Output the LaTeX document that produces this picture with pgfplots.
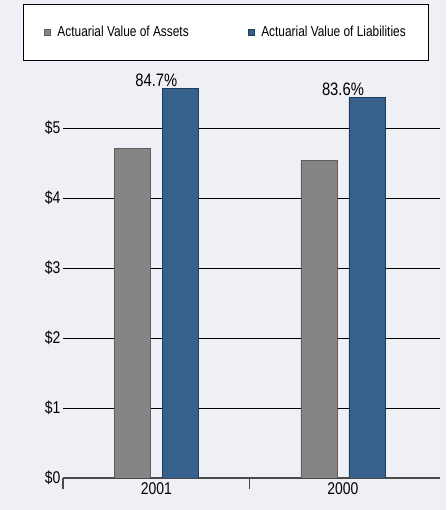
\documentclass[border=0pt]{standalone}
\usepackage{fontspec}
\setmainfont{Liberation Sans}[FakeStretch=0.82]
\usepackage{pgfplots}
\pgfplotsset{compat=1.18}
\definecolor{bgc}{HTML}{EEF0F5}
\definecolor{grayfill}{HTML}{858585}
\definecolor{grayedge}{HTML}{5E5E5E}
\definecolor{bluefill}{HTML}{36618C}
\definecolor{blueedge}{HTML}{1F3E5E}
\definecolor{axc}{HTML}{4A4A4A}
\begin{document}
\begin{tikzpicture}
\fill[bgc] (0,0) rectangle (446pt,510pt);
\begin{axis}[
  at={(63pt,32pt)}, anchor=south west,
  scale only axis, width=377pt, height=413pt,
  xmin=-0.5, xmax=1.52, ymin=0, ymax=5.9,
  /pgf/number format/assume math mode=true,
  axis x line*=bottom, axis y line*=left,
  x axis line style={-, line width=2.8pt, draw=axc},
  y axis line style={draw=none},
  xtick={-0.5,0.5}, xticklabels={},
  xtick align=outside,
  major tick length=11pt,
  xtick style={draw=axc, line width=1.3pt},
  extra x ticks={0,1}, extra x tick labels={2001,2000},
  extra x tick style={major tick length=0pt, grid=none, tick style={draw=none}},
  ytick={0,1,2,3,4,5},
  yticklabels={\$0,\$1,\$2,\$3,\$4,\$5},
  ytick style={draw=none},
  ymajorgrids, major grid style={black, line width=0.9pt},
  tick label style={font=\fontsize{17}{19}\selectfont},
  yticklabel style={xshift=1pt},
  xticklabel style={yshift=-1pt},
  ybar, bar width=36pt,
  legend columns=2,
  legend style={at={(0.432,1.079)}, anchor=center, draw=black, fill=white,
    line width=0.9pt, font=\fontsize{14.5}{16}\selectfont,
    inner xsep=21pt, inner ysep=20pt,
    /tikz/every odd column/.append style={column sep=5pt},
    /tikz/every even column/.append style={column sep=57pt}},
  legend cell align=left,
]
\addplot[fill=grayfill, draw=grayedge, line width=0.8pt, bar shift=-24pt,
  legend image code/.code={\fill[grayfill, draw=grayedge, line width=0.5pt] (0pt,-3pt) rectangle (6pt,3pt);}]
  coordinates {(0,4.71) (1,4.54)};
\addlegendentry{Actuarial Value of Assets}
\addplot[fill=bluefill, draw=blueedge, line width=0.8pt, bar shift=24pt,
  point meta=explicit symbolic, nodes near coords,
  every node near coord/.append style={xshift=-24pt, font=\fontsize{18}{20}\selectfont, inner sep=2pt},
  legend image code/.code={\fill[bluefill, draw=blueedge, line width=0.5pt] (0pt,-3pt) rectangle (6pt,3pt);}]
  table[meta=label] {
x y label
0 5.56 84.7\%
1 5.43 83.6\%
};
\addlegendentry{Actuarial Value of Liabilities}
\end{axis}
\pgfresetboundingbox
\useasboundingbox (0,0) rectangle (446pt,510pt);
\end{tikzpicture}
\end{document}
